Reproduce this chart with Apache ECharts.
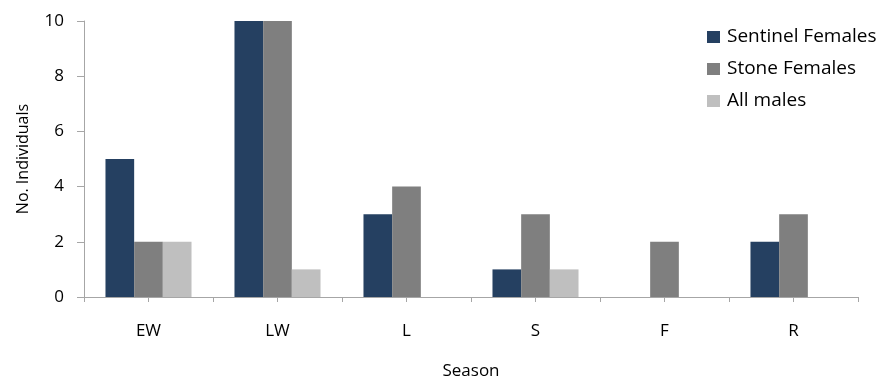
<!DOCTYPE html>
<html>
<head>
<meta charset="utf-8">
<script src="https://cdn.jsdelivr.net/npm/echarts@6/dist/echarts.min.js"></script>
<style>
  html, body { margin: 0; padding: 0; background: #fff; }
  #chart { width: 883px; height: 385px; }
</style>
</head>
<body>
<div id="chart"></div>
<script>
// Individuals counted per season, split by group
const seasons = ['EW', 'LW', 'L', 'S', 'F', 'R'];
const sentinelFemales = [5, 10, 3, 1, 0, 2];
const stoneFemales = [2, 10, 4, 3, 2, 3];
const allMales = [2, 1, 0, 1, 0, 0];
const yTicks = [0, 2, 4, 6, 8, 10];

const FONT = '"Open Sans", Lato, sans-serif';
const AXIS_COLOR = '#a6a6a6';

const chart = echarts.init(document.getElementById('chart'));

function barSeries(name, values, color) {
  return {
    name: name,
    type: 'bar',
    xAxisIndex: 0,
    data: values,
    barGap: '0%',
    barCategoryGap: '33.3%',
    itemStyle: { color: color },
    emphasis: { disabled: true }
  };
}

chart.setOption({
  animation: false,
  textStyle: { fontFamily: FONT },
  grid: { left: 84, right: 25, top: 21, bottom: 82.3, containLabel: false },
  legend: {
    orient: 'vertical',
    left: 707,
    top: 27,
    padding: 0,
    itemWidth: 13,
    itemHeight: 12,
    itemGap: 12,
    icon: 'rect',
    textStyle: { fontFamily: FONT, fontSize: 19, color: '#000', lineHeight: 20, padding: [0, 0, 0, 2] },
    data: ['Sentinel Females', 'Stone Females', 'All males']
  },
  xAxis: [
    {
      type: 'category',
      data: seasons,
      position: 'bottom',
      name: 'Season',
      nameLocation: 'middle',
      nameGap: 66,
      nameTextStyle: { fontFamily: FONT, fontSize: 17, color: '#000' },
      axisLine: { lineStyle: { color: AXIS_COLOR, width: 1 } },
      axisTick: { show: true, length: 5, alignWithLabel: false, lineStyle: { color: AXIS_COLOR } },
      axisLabel: { fontFamily: FONT, fontSize: 17, color: '#000', margin: 26 },
      splitLine: { show: false }
    },
    {
      type: 'category',
      data: seasons,
      position: 'bottom',
      axisLine: { show: false },
      axisTick: { show: true, length: 5, alignWithLabel: true, lineStyle: { color: AXIS_COLOR } },
      axisLabel: { show: false },
      splitLine: { show: false }
    }
  ],
  yAxis: {
    type: 'value',
    min: yTicks[0],
    max: yTicks[yTicks.length - 1],
    interval: yTicks[1] - yTicks[0],
    name: 'No. Individuals',
    nameLocation: 'middle',
    nameGap: 53,
    nameTextStyle: { fontFamily: FONT, fontSize: 16, color: '#000' },
    axisLine: { show: true, lineStyle: { color: AXIS_COLOR, width: 1 } },
    axisTick: { show: true, length: 7, lineStyle: { color: AXIS_COLOR } },
    axisLabel: { fontFamily: FONT, fontSize: 17, color: '#000', margin: 20 },
    splitLine: { show: false }
  },
  series: [
    barSeries('Sentinel Females', sentinelFemales, '#254061'),
    barSeries('Stone Females', stoneFemales, '#7f7f7f'),
    barSeries('All males', allMales, '#bfbfbf')
  ]
});
</script>
</body>
</html>
